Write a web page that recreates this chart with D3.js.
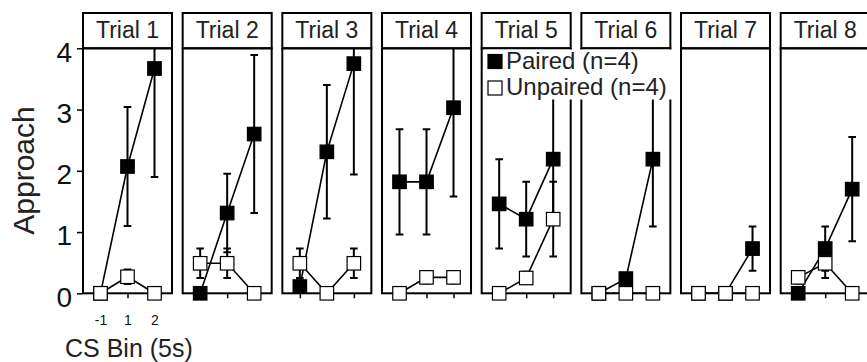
<!DOCTYPE html>
<html>
<head>
<meta charset="utf-8">
<script src="https://cdn.jsdelivr.net/npm/d3@7"></script>
<style>
  html, body { margin: 0; padding: 0; background: #fff; }
  svg { display: block; font-family: "Liberation Sans", Arial, Helvetica, sans-serif; }
</style>
</head>
<body>
<svg id="chart" width="867" height="362"></svg>
<script>
// ---- data ----
const trials = ["Trial 1", "Trial 2", "Trial 3", "Trial 4", "Trial 5", "Trial 6", "Trial 7", "Trial 8"];
const bins = ["-1", "1", "2"];
const yTicks = [0, 1, 2, 3, 4];
const pairedMean = [
  [0, 2.07, 3.67], [0, 1.31, 2.6], [0.11, 2.31, 3.75], [1.82, 1.82, 3.03],
  [1.46, 1.21, 2.19], [0, 0.24, 2.19], [0, 0, 0.73], [0, 0.73, 1.7]
];
const pairedSem = [
  [0, 0.97, 1.77], [0, 0.64, 1.29], [0.1, 1.09, 1.81], [0.86, 0.86, 1.45],
  [0.73, 0.61, 1.0], [0, 0, 1.1], [0, 0, 0.36], [0, 0.36, 0.85]
];
const unpairedMean = [
  [0, 0.27, 0], [0.49, 0.49, 0], [0.49, 0, 0.49], [0, 0.26, 0.26],
  [0, 0.25, 1.21], [0, 0, 0], [0, 0, 0], [0.26, 0.49, 0]
];
const unpairedSem = [
  [0, 0.12, 0], [0.24, 0.24, 0], [0.24, 0, 0.24], [0, 0.1, 0.1],
  [0, 0.1, 0.61], [0, 0, 0], [0, 0, 0], [0.1, 0.24, 0]
];
const legendLabels = ["Paired (n=4)", "Unpaired (n=4)"];
const xLabel = "CS Bin (5s)";
const yLabel = "Approach";

// ---- layout ----
const svg = d3.select("#chart");
const plotTop = 48.3, plotBottom = 293.3, stripTop = 13;
const panel = d3.scaleBand().domain(trials).range([83, 869.7]).paddingInner(0.107).paddingOuter(0);
const pw = panel.bandwidth();
const x = d3.scalePoint().domain(bins).range([0, pw]).padding(0.648);
const y = d3.scaleLinear().domain([0, 4]).range([plotBottom, plotTop]);
const ms = 13.5;

const series = [
  { mean: pairedMean, sem: pairedSem, fill: "#000" },
  { mean: unpairedMean, sem: unpairedSem, fill: "#fff" }
];

svg.append("defs").append("clipPath").attr("id", "clip")
  .append("rect").attr("x", -10).attr("y", plotTop).attr("width", pw + 20).attr("height", 300);

trials.forEach((t, i) => {
  const g = svg.append("g").attr("transform", `translate(${panel(t)},0)`);
  // strip
  g.append("rect").attr("x", 0).attr("y", stripTop).attr("width", pw).attr("height", plotTop - stripTop)
    .attr("fill", "#fff").attr("stroke", "#000").attr("stroke-width", 2);
  g.append("text").attr("x", pw / 2).attr("y", 38.3).attr("text-anchor", "middle")
    .attr("font-size", 23).attr("fill", "#222").text(t);
  // panel border
  g.append("rect").attr("x", 0).attr("y", plotTop).attr("width", pw).attr("height", plotBottom - plotTop)
    .attr("fill", "none").attr("stroke", "#000").attr("stroke-width", 2);
  // x ticks
  const xa = d3.axisBottom(x).tickSize(5).tickFormat(i === 0 ? (d => d) : () => "");
  const xg = g.append("g").attr("transform", `translate(0,${plotBottom})`).call(xa);
  xg.select(".domain").remove();
  xg.selectAll("line").attr("stroke", "#000").attr("stroke-width", 1.5);
  xg.selectAll("text").attr("font-size", 14).attr("fill", "#111").attr("font-family", "Liberation Sans, Arial, sans-serif")
    .attr("y", 0).attr("dy", null).attr("transform", "translate(0,32)");

  series.forEach(s => {
    const m = s.mean[i], e = s.sem[i];
    const pts = bins.map((b, k) => ({ b, v: m[k], e: e[k] }));
    // error bars
    const eg = g.append("g").attr("clip-path", "url(#clip)");
    pts.filter(p => p.e > 0).forEach(p => {
      const cx = x(p.b);
      eg.append("line").attr("x1", cx).attr("x2", cx).attr("y1", y(p.v + p.e)).attr("y2", y(p.v - p.e))
        .attr("stroke", "#000").attr("stroke-width", 2);
      [p.v + p.e, p.v - p.e].forEach(v => {
        eg.append("line").attr("x1", cx - 3.8).attr("x2", cx + 3.8).attr("y1", y(v)).attr("y2", y(v))
          .attr("stroke", "#000").attr("stroke-width", 2);
      });
    });
    // line
    g.append("path").datum(pts)
      .attr("d", d3.line().x(p => x(p.b)).y(p => y(p.v)))
      .attr("fill", "none").attr("stroke", "#000").attr("stroke-width", 1.6);
    // markers
    g.selectAll(null).data(pts).enter().append("rect")
      .attr("x", p => x(p.b) - ms / 2).attr("y", p => y(p.v) - ms / 2)
      .attr("width", ms).attr("height", ms)
      .attr("fill", s.fill).attr("stroke", "#000").attr("stroke-width", 1.2);
  });
});

// y axis on first panel
const ya = d3.axisLeft(y).tickValues(yTicks).tickSize(6).tickPadding(5).tickFormat(d3.format("d"));
const yg = svg.append("g").attr("transform", `translate(${panel(trials[0])},0)`).call(ya);
yg.select(".domain").remove();
yg.selectAll("line").attr("stroke", "#000").attr("stroke-width", 1.5);
yg.selectAll("text").attr("font-size", 28).attr("fill", "#111").attr("font-family", "Liberation Sans, Arial, sans-serif")
  .attr("dy", "0.46em");

// axis titles
svg.append("text").attr("transform", "translate(34,170.5) rotate(-90)").attr("text-anchor", "middle")
  .attr("font-size", 30).attr("fill", "#222").text(yLabel);
svg.append("text").attr("x", 65).attr("y", 357).attr("font-size", 25).attr("fill", "#222").text(xLabel);

// legend
const lg = svg.append("g");
lg.append("rect").attr("x", 484).attr("y", 49.5).attr("width", 190).attr("height", 50).attr("fill", "#fff");
legendLabels.forEach((lab, k) => {
  const cy = k === 0 ? 61.5 : 88;
  lg.append("rect").attr("x", 488).attr("y", cy - 7).attr("width", 14).attr("height", 14)
    .attr("fill", series[k].fill).attr("stroke", "#000").attr("stroke-width", 1.2);
  lg.append("text").attr("x", 506).attr("y", cy + 7).attr("font-size", 24).attr("fill", "#222").text(lab);
});
</script>
</body>
</html>
